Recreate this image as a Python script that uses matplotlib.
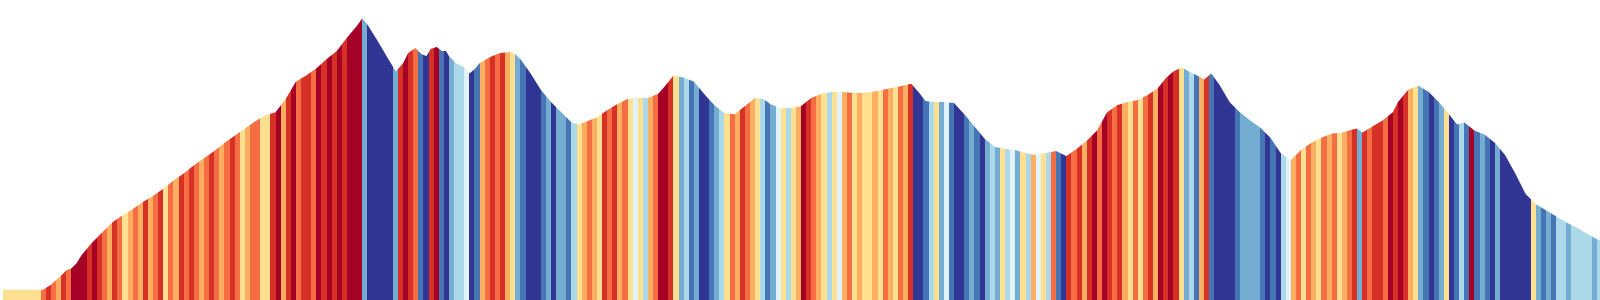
import numpy as np
import matplotlib
matplotlib.use("Agg")
import matplotlib.pyplot as plt
from matplotlib.patches import Polygon

# distance along the route (km) and elevation (m)
dist_km = [0.3, 4.2, 5.0, 6.0, 6.5, 7.0, 7.5, 8.0, 9.0, 10.0, 11.0, 12.0, 13.0, 14.0, 15.0,
	16.0, 17.0, 18.0, 19.0, 20.0, 21.0, 22.0, 23.0, 24.0, 25.0, 26.0, 27.0, 28.0, 29.0, 30.0,
	31.0, 32.0, 33.0, 34.0, 35.0, 35.5, 36.0, 37.0, 38.0, 38.8, 39.5, 40.0, 40.7, 41.3, 41.8,
	42.2, 42.8, 43.3, 43.7, 44.0, 44.7, 45.5, 46.0, 46.5, 47.0, 48.0, 49.0, 50.0, 50.5, 51.0,
	52.0, 53.0, 54.0, 55.0, 56.0, 56.7, 57.5, 58.5, 59.5, 60.5, 61.5, 62.5, 63.5, 64.5, 65.2,
	66.0, 67.0, 68.0, 69.0, 70.0, 71.0, 72.0, 73.0, 74.0, 74.8, 75.5, 76.5, 77.5, 78.5, 79.5,
	80.5, 81.5, 82.5, 83.5, 84.5, 85.5, 86.5, 87.5, 88.5, 89.3, 90.0, 90.7, 91.5, 92.5, 93.5,
	94.5, 95.5, 96.5, 97.5, 98.5, 99.5, 100.5, 101.5, 102.5, 103.5, 104.5, 105.5, 106.5, 107.5,
	108.5, 109.5, 110.5, 111.5, 112.5, 113.5, 114.3, 115.0, 115.8, 116.5, 117.5, 118.0, 118.7,
	119.5, 120.5, 121.5, 122.5, 123.5, 124.5, 125.5, 126.5, 127.5, 128.5, 129.5, 130.5, 131.5,
	132.5, 133.0, 133.5, 134.5, 135.5, 136.5, 137.0, 138.0, 139.0, 140.0, 141.0, 142.0, 142.8,
	143.5, 144.5, 145.5, 146.5, 147.5, 148.5, 149.5, 150.5, 151.5, 152.5, 153.5, 154.5, 155.5,
	156.8]
elev_m = [50, 50, 75, 120, 145, 155, 180, 220, 280, 330, 380, 415, 445, 480, 510,
	545, 585, 620, 660, 695, 730, 770, 805, 840, 875, 905, 920, 985, 1070, 1100,
	1135, 1180, 1220, 1285, 1345, 1380, 1350, 1270, 1185, 1120, 1160, 1210, 1235, 1205, 1195,
	1230, 1240, 1220, 1220, 1195, 1160, 1140, 1110, 1130, 1160, 1190, 1210, 1215, 1205, 1180,
	1110, 1030, 970, 920, 870, 860, 875, 895, 930, 960, 985, 990, 990, 1010, 1050,
	1100, 1090, 1070, 1010, 955, 915, 910, 950, 990, 985, 960, 940, 940, 950, 990,
	1010, 1020, 1020, 1015, 1015, 1020, 1030, 1040, 1050, 1060, 1020, 975, 970, 970, 965,
	910, 850, 790, 750, 740, 735, 720, 710, 720, 730, 705, 740, 780, 830,
	920, 955, 970, 980, 1005, 1040, 1090, 1120, 1140, 1120, 1095, 1080, 1110,
	1055, 970, 920, 880, 845, 795, 720, 685, 735, 770, 795, 815, 820,
	835, 840, 820, 850, 880, 920, 970, 1030, 1050, 1020, 970, 910, 860,
	870, 830, 810, 770, 710, 620, 520, 470, 440, 410, 380, 355, 325,
	290]

# gradient class of every 0.5 km stripe (0 = steep descent ... 9 = steep climb)
stripe_km = 0.5
stripe_class = ("5555555578" "7687999898" "7687567686" "7857687876" "7876787567"
	"7558968978" "8798989899" "9200000289" "8710891023" "3401678786"
	"5210001202" "2135676587" "8675453679" "9852312001" "2357687653"
	"1245356987" "6535467565" "5657657680" "0135241001" "2102325342"
	"5364537108" "7868979878" "6575786989" "8523168100" "0012222101"
	"0346757657" "6756782878" "8798986521" "0125013191" "2102000000"
	"5212133233" "3323")

class_colors = ["#313695", "#4575b4", "#74add1", "#abd9e9", "#e0f3f8",
	"#fee090", "#fdae61", "#f46d43", "#d73027", "#a50026"]

if __name__ == "__main__":

	fig = plt.figure(figsize=(16, 3), dpi=100)
	ax = fig.add_axes([0, 0, 1, 1])

	xmax = dist_km[-1]
	ymax = 1470

	# route outline used to cut the stripes
	verts = [(dist_km[0], 0)] + list(zip(dist_km, elev_m)) + [(xmax, 0)]
	outline = Polygon(verts, closed=True, facecolor="none", edgecolor="none")
	ax.add_patch(outline)

	x = np.arange(len(stripe_class)) * stripe_km
	cols = [class_colors[int(c)] for c in stripe_class]
	bars = ax.bar(x, ymax, width=stripe_km, align="edge", color=cols, linewidth=0)
	for b in bars:
		b.set_clip_path(outline)

	ax.set_xlim(0, xmax)
	ax.set_ylim(0, ymax)
	ax.axis("off")

	fig.savefig("out.png", dpi=100)
	plt.close()
